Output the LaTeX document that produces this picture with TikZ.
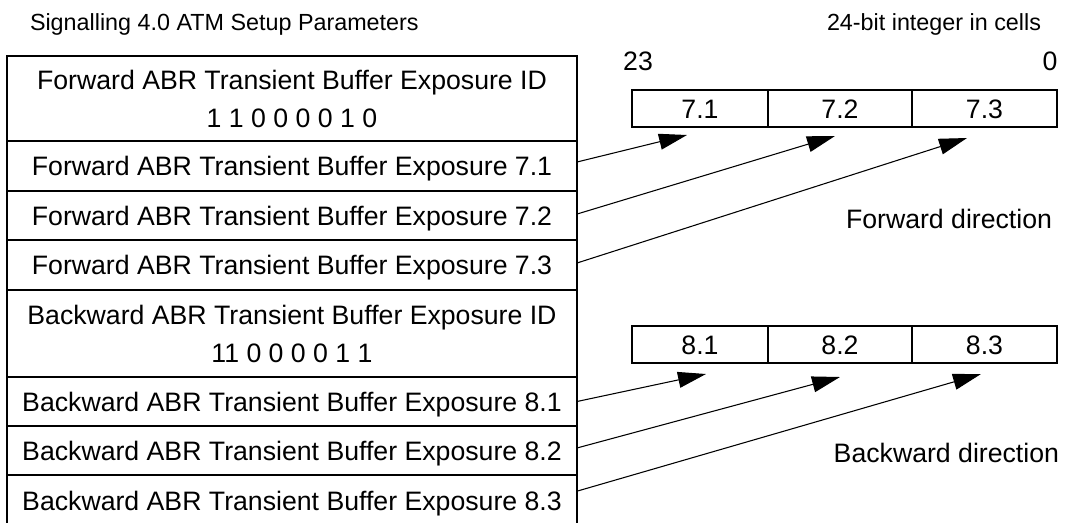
\documentclass[tikz,border=0pt]{standalone}
\usepackage{fontspec}
\setmainfont{Liberation Sans}
\usetikzlibrary{arrows.meta}
\tikzset{
  txt/.style={font=\fontsize{20pt}{24pt}\selectfont, inner sep=0pt, outer sep=0pt},
  head/.style={font=\fontsize{17.5pt}{22pt}\selectfont, inner sep=0pt, outer sep=0pt},
  rowbox/.style={txt, draw, line width=1.5pt, minimum width=427.5pt, anchor=north west},
  onerow/.style={rowbox, text height=14.3pt, text depth=0pt},
  tworow/.style={rowbox, align=center, font=\fontsize{20pt}{28.5pt}\selectfont},
  cellbox/.style={txt, draw, line width=1.2pt, anchor=north west, minimum height=27.75pt, text height=14.3pt, text depth=0pt},
  conn/.style={line width=0.8pt, -{Triangle[length=21pt,width=12pt]}},
}
\begin{document}
\begin{tikzpicture}[x=0.75pt,y=-0.75pt]
\useasboundingbox (0,0) rectangle (1066,522);
% titles
\node[head, anchor=base west] (title) at (30,30) {Signalling 4.0 ATM Setup Parameters};
\node[head, anchor=base] (bits) at (934,30) {24-bit integer in cells};
% left table
\node[tworow, minimum height=63.75pt] (fid) at (7,56) {Forward ABR Transient Buffer Exposure ID\\1 1 0 0 0 0 1 0};
\node[onerow, minimum height=37.5pt] (f1) at (7,141) {Forward ABR Transient Buffer Exposure 7.1};
\node[onerow, minimum height=36.75pt] (f2) at (7,191) {Forward ABR Transient Buffer Exposure 7.2};
\node[onerow, minimum height=37.5pt] (f3) at (7,240) {Forward ABR Transient Buffer Exposure 7.3};
\node[tworow, minimum height=65.25pt] (bid) at (7,290) {Backward ABR Transient Buffer Exposure ID\\11 0 0 0 0 1 1};
\node[onerow, minimum height=36.75pt] (b1) at (7,377) {Backward ABR Transient Buffer Exposure 8.1};
\node[onerow, minimum height=36.75pt] (b2) at (7,426) {Backward ABR Transient Buffer Exposure 8.2};
\node[onerow, minimum height=38.25pt] (b3) at (7,475) {Backward ABR Transient Buffer Exposure 8.3};
% bit labels
\node[txt, anchor=base] (msb) at (638,70) {23};
\node[txt, anchor=base] (lsb) at (1050,70) {0};
% forward register
\node[cellbox, minimum width=102pt] (c71) at (632,90) {7.1};
\node[cellbox, minimum width=108pt] (c72) at (768,90) {7.2};
\node[cellbox, minimum width=108.75pt] (c73) at (912,90) {7.3};
% backward register
\node[cellbox, minimum width=102pt] (c81) at (632,326) {8.1};
\node[cellbox, minimum width=108pt] (c82) at (768,326) {8.2};
\node[cellbox, minimum width=108.75pt] (c83) at (912,326) {8.3};
% direction labels
\node[txt, anchor=base east] (fwd) at (1052,228) {Forward direction};
\node[txt, anchor=base east] (bwd) at (1059,462) {Backward direction};
% arrow tips
\coordinate (t71) at (687,135);
\coordinate (t72) at (835,136);
\coordinate (t73) at (967,138);
\coordinate (t81) at (706,374);
\coordinate (t82) at (840,377);
\coordinate (t83) at (981,374);
% connectors
\draw[conn] ([yshift=3pt]f1.east) -- (t71);
\draw[conn] ([yshift=1.1pt]f2.east) -- (t72);
\draw[conn] ([yshift=1.5pt]f3.east) -- (t73);
\draw[conn] (b1.east) -- (t81);
\draw[conn] ([yshift=1.9pt]b2.east) -- (t82);
\draw[conn] ([yshift=7pt]b3.east) -- (t83);
\end{tikzpicture}
\end{document}
